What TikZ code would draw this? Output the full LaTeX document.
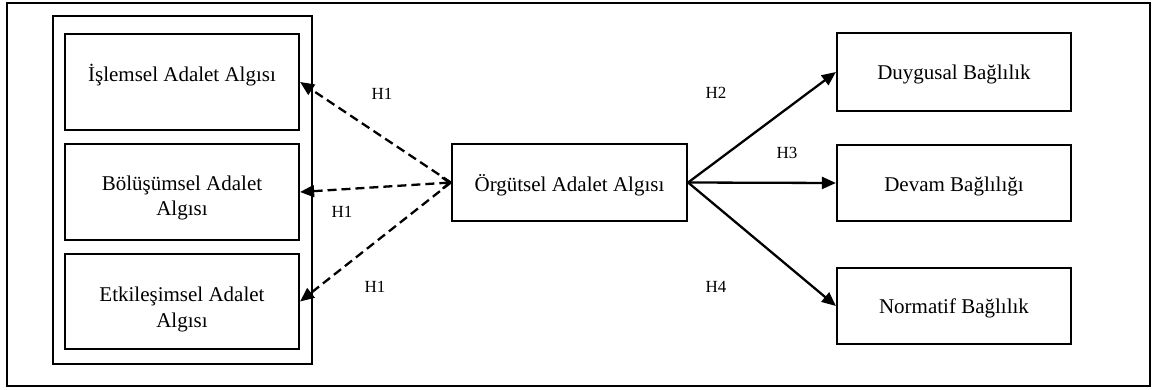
\documentclass[tikz,border=0pt]{standalone}
\usepackage{fontspec}
\setmainfont{Liberation Serif}
\usetikzlibrary{arrows.meta}
\begin{document}
\begin{tikzpicture}[x=1pt,y=-1pt,
  box/.style={draw, line width=2.2pt, minimum width=234pt, inner sep=0pt},
  txt/.style={font=\fontsize{21}{25.5}\selectfont, inner sep=0pt, anchor=base, align=center},
  hyp/.style={font=\fontsize{17}{20}\selectfont, inner sep=0pt, anchor=base},
  link/.style={line width=2.3pt, -{Triangle[length=14pt,width=12pt]}},
  dlink/.style={link, dash pattern=on 9pt off 5pt},
]
\useasboundingbox (0,0) rectangle (1153,390);
% outer frame
\draw[line width=1.4pt] (7,3) rectangle (1150,386);

% group of justice dimensions
\node[draw, line width=2pt, minimum width=259pt, minimum height=348pt, inner sep=0pt] (grp) at (182.5,190) {};
\node[box, minimum height=96pt] (b1) at (182,82) {};
\node[box, minimum height=96pt] (b2) at (182,192) {};
\node[box, minimum height=95pt] (b3) at (182,301.5) {};
\node[txt] (t1) at (182,82) {İşlemsel Adalet Algısı};
\node[txt] (t2a) at (182,190) {Bölüşümsel Adalet};
\node[txt] (t2b) at (182,215) {Algısı};
\node[txt] (t3a) at (182,301) {Etkileşimsel Adalet};
\node[txt] (t3b) at (182,327) {Algısı};

% central construct
\node[box, minimum width=235pt, minimum height=77pt] (c) at (569.5,182.5) {};
\node[txt] (tc) at (569.5,192) {Örgütsel Adalet Algısı};

% commitment dimensions
\node[box, minimum height=78pt] (r1) at (954,72) {};
\node[box, minimum height=76pt] (r2) at (954,183) {};
\node[box, minimum height=76pt] (r3) at (954,306) {};
\node[txt] (tr1) at (954,80) {Duygusal Bağlılık};
\node[txt] (tr2) at (954,192) {Devam Bağlılığı};
\node[txt] (tr3) at (954,313) {Normatif Bağlılık};

% hypotheses
\draw[dlink] (c.west) -- (b1.east);
\draw[dlink, {Straight Barb[length=7pt,width=11pt,line width=2pt]}-{Triangle[length=14pt,width=12pt]}] (c.west) -- (b2.east);
\draw[dlink] (c.west) -- (b3.east);
\draw[link] (c.east) -- (r1.west);
\draw[link] (c.east) -- (r2.west);
\draw[link] (c.east) -- (r3.west);

\node[hyp] (h1a) at (382,100) {H1};
\node[hyp] (h1b) at (342,218) {H1};
\node[hyp] (h1c) at (375,292) {H1};
\node[hyp] (h2) at (716,99) {H2};
\node[hyp] (h3) at (787,159) {H3};
\node[hyp] (h4) at (716,292) {H4};
\end{tikzpicture}
\end{document}
